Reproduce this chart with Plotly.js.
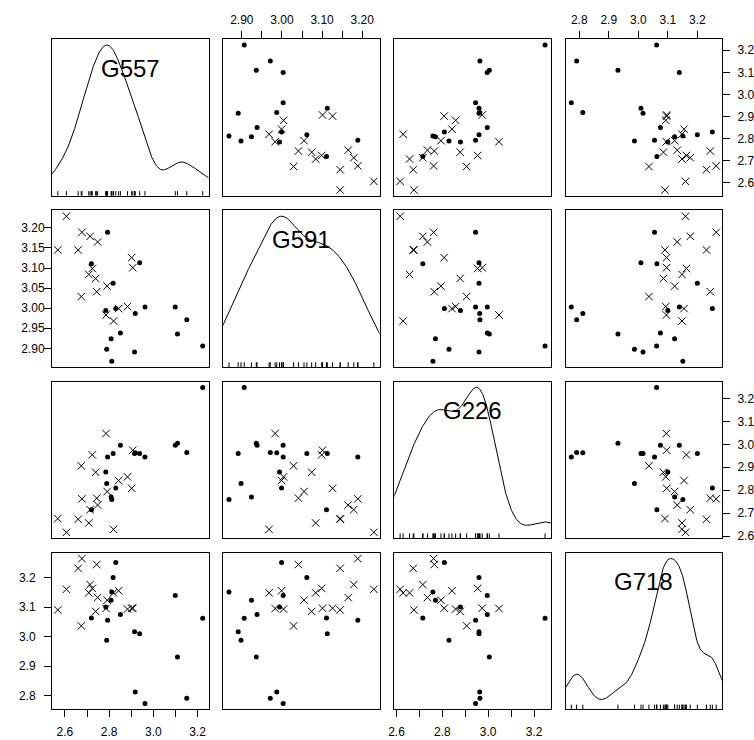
<!DOCTYPE html>
<html><head><meta charset="utf-8">
<script src="https://cdn.plot.ly/plotly-3.0.1.min.js"></script>
<style>html,body{margin:0;padding:0;background:#fff;}</style>
</head><body>
<div id="chart" style="width:754px;height:740px;"></div>
<script>
// ---------------- data ----------------
const varNames = ['G557', 'G591', 'G226', 'G718'];

// group 1: filled dots
const dotG557 = [2.720,2.785,2.789,2.793,2.809,2.812,2.818,2.830,2.851,2.915,2.918,2.938,2.962,3.099,3.109,3.151,3.223];
const dotG591 = [3.111,2.994,2.898,3.189,2.924,2.868,3.062,2.999,2.938,2.891,2.987,3.113,3.003,3.003,2.936,2.971,2.906];
const dotG226 = [2.715,2.879,2.829,2.945,2.770,2.759,2.960,2.809,2.996,2.960,2.963,2.960,2.945,2.996,3.005,2.964,3.248];
const dotG718 = [3.063,3.100,2.987,3.055,3.123,3.151,3.200,3.251,3.075,3.016,2.812,3.009,2.773,3.139,2.931,2.791,3.062];

// group 2: crosses
const crossG557 = [2.568,2.607,2.660,2.674,2.677,2.708,2.714,2.724,2.739,2.744,2.748,2.786,2.791,2.820,2.843,2.883,2.902,2.907];
const crossG591 = [3.145,3.229,3.145,3.029,3.189,3.084,3.179,3.099,3.074,3.041,3.165,2.983,3.055,2.968,2.999,3.004,3.126,3.101];
const crossG226 = [2.676,2.616,2.673,2.906,2.762,2.657,2.715,2.954,2.878,2.765,2.735,3.047,2.794,2.629,2.842,2.858,2.808,2.974];
const crossG718 = [3.090,3.160,3.231,3.036,3.264,3.148,3.176,3.163,3.085,3.244,3.132,3.095,3.123,3.148,3.155,3.093,3.096,3.096];

// tick values / labels
const tickG557 = [2.6,2.7,2.8,2.9,3.0,3.1,3.2];
const tickG557BottomText = ['2.6','','2.8','','3.0','','3.2'];
const tickG557RightText = ['2.6','2.7','2.8','2.9','3.0','3.1','3.2'];
const tickG591 = [2.90,2.95,3.00,3.05,3.10,3.15,3.20];
const tickG591TopText = ['2.90','','3.00','','3.10','','3.20'];
const tickG591LeftText = ['2.90','2.95','3.00','3.05','3.10','3.15','3.20'];
const tickG226 = [2.6,2.7,2.8,2.9,3.0,3.1,3.2];
const tickG226BottomText = ['2.6','','2.8','','3.0','','3.2'];
const tickG226RightText = ['2.6','2.7','2.8','2.9','3.0','3.1','3.2'];
const tickG718 = [2.8,2.9,3.0,3.1,3.2];
const tickG718Text = ['2.8','2.9','3.0','3.1','3.2'];

// ---------------- build ----------------
const dots = [dotG557, dotG591, dotG226, dotG718];
const crosses = [crossG557, crossG591, crossG226, crossG718];
const allVals = dots.map((d, i) => d.concat(crosses[i]));

const W = 754, H = 740;
const PANEL = 156.5, GAP = 14.67, LEFT = 52, TOP = 39.3;
const FONT = 'Liberation Sans, Arial, Helvetica, sans-serif';

function padRange(v) {
  const mn = Math.min(...v), mx = Math.max(...v), d = mx - mn;
  return [mn - 0.04 * d, mx + 0.04 * d];
}
const ranges = allVals.map(padRange);

function quantile7(s, p) {
  const h = (s.length - 1) * p, lo = Math.floor(h);
  const hi = Math.min(lo + 1, s.length - 1);
  return s[lo] + (h - lo) * (s[hi] - s[lo]);
}
function bwNrd0(x) {
  const n = x.length, m = x.reduce((a, b) => a + b, 0) / n;
  const sd = Math.sqrt(x.reduce((a, b) => a + (b - m) * (b - m), 0) / (n - 1));
  const s = [...x].sort((a, b) => a - b);
  const iqr = quantile7(s, 0.75) - quantile7(s, 0.25);
  const lo = Math.min(sd, iqr / 1.34);
  return 0.9 * lo * Math.pow(n, -0.2);
}
function density(x) {
  const bw = bwNrd0(x), n = x.length;
  const from = Math.min(...x) - 3 * bw, to = Math.max(...x) + 3 * bw;
  const gx = [], gy = [];
  for (let i = 0; i < 512; i++) {
    const g = from + (to - from) * i / 511;
    let s = 0;
    for (const xi of x) { const z = (g - xi) / bw; s += Math.exp(-0.5 * z * z); }
    gx.push(g); gy.push(s / (n * bw * Math.sqrt(2 * Math.PI)));
  }
  const mn = Math.min(...x), mx = Math.max(...x);
  const dmin = Math.min(...gy), dmax = Math.max(...gy);
  return { x: gx, y: gy.map(d => mn + d * (mx - mn) / (dmax - dmin)) };
}

const traces = [];
const layout = {
  width: W, height: H, margin: { l: 0, r: 0, t: 0, b: 0 },
  paper_bgcolor: '#fff', plot_bgcolor: '#fff', showlegend: false,
  font: { family: FONT, size: 12, color: '#000' },
  annotations: []
};

function axName(k, c) { return k === 1 ? c : c + k; }

const baseAxis = {
  showgrid: false, zeroline: false, showline: true, mirror: true,
  linecolor: '#000', linewidth: 1, ticks: '', showticklabels: false, fixedrange: true
};
const tickStyle = {
  ticks: 'outside', ticklen: 7, tickwidth: 1, tickcolor: '#000', showticklabels: true,
  tickmode: 'array', tickfont: { family: FONT, size: 12, color: '#000' }
};

for (let i = 0; i < 4; i++) {
  for (let j = 0; j < 4; j++) {
    const k = i * 4 + j + 1;
    const xa = axName(k, 'x'), ya = axName(k, 'y');
    const x0 = LEFT + j * (PANEL + GAP), y0 = TOP + i * (PANEL + GAP);
    const xaxis = Object.assign({}, baseAxis, {
      domain: [x0 / W, (x0 + PANEL) / W], range: ranges[j], anchor: ya
    });
    const yaxis = Object.assign({}, baseAxis, {
      domain: [1 - (y0 + PANEL) / H, 1 - y0 / H], range: ranges[i], anchor: xa
    });
    // outer axes
    if (i === 0 && j === 1) Object.assign(xaxis, tickStyle, { side: 'top', tickvals: tickG591, ticktext: tickG591TopText, ticklabelstandoff: 3 });
    if (i === 0 && j === 3) Object.assign(xaxis, tickStyle, { side: 'top', tickvals: tickG718, ticktext: tickG718Text, ticklabelstandoff: 3 });
    if (i === 3 && j === 0) Object.assign(xaxis, tickStyle, { side: 'bottom', tickvals: tickG557, ticktext: tickG557BottomText, ticklabelstandoff: 4 });
    if (i === 3 && j === 2) Object.assign(xaxis, tickStyle, { side: 'bottom', tickvals: tickG226, ticktext: tickG226BottomText, ticklabelstandoff: 4 });
    if (i === 0 && j === 3) Object.assign(yaxis, tickStyle, { side: 'right', tickvals: tickG557, ticktext: tickG557RightText, ticklabelstandoff: 5 });
    if (i === 2 && j === 3) Object.assign(yaxis, tickStyle, { side: 'right', tickvals: tickG226, ticktext: tickG226RightText, ticklabelstandoff: 5 });
    if (i === 1 && j === 0) Object.assign(yaxis, tickStyle, { side: 'left', tickvals: tickG591, ticktext: tickG591LeftText, ticklabelstandoff: -3 });
    if (i === 3 && j === 0) Object.assign(yaxis, tickStyle, { side: 'left', tickvals: tickG718, ticktext: tickG718Text, ticklabelstandoff: 6 });
    layout[k === 1 ? 'xaxis' : 'xaxis' + k] = xaxis;
    layout[k === 1 ? 'yaxis' : 'yaxis' + k] = yaxis;

    if (i === j) {
      const d = density(allVals[i]);
      traces.push({ type: 'scatter', mode: 'lines', x: d.x, y: d.y, xaxis: xa, yaxis: ya,
        line: { color: '#000', width: 1 }, hoverinfo: 'skip', cliponaxis: true });
      // rug
      const r = ranges[i], h = 0.03 * (r[1] - r[0]);
      const rx = [], ry = [];
      for (const v of allVals[i]) { rx.push(v, v, null); ry.push(r[0], r[0] + h, null); }
      traces.push({ type: 'scatter', mode: 'lines', x: rx, y: ry, xaxis: xa, yaxis: ya,
        line: { color: '#000', width: 1 }, hoverinfo: 'skip' });
      layout.annotations.push({
        text: varNames[i], xref: xa + ' domain', yref: ya + ' domain',
        x: 0.5, y: 1 - 29 / PANEL, xanchor: 'center', yanchor: 'middle',
        showarrow: false, font: { family: FONT, size: 24, color: '#000' }
      });
    } else {
      traces.push({ type: 'scatter', mode: 'markers', x: dots[j], y: dots[i], xaxis: xa, yaxis: ya,
        marker: { symbol: 'circle', size: 5, color: '#000' }, hoverinfo: 'skip' });
      traces.push({ type: 'scatter', mode: 'markers', x: crosses[j], y: crosses[i], xaxis: xa, yaxis: ya,
        marker: { symbol: 'x-thin-open', size: 7.5, color: '#000', line: { color: '#000', width: 1 } }, hoverinfo: 'skip' });
    }
  }
}

Plotly.newPlot('chart', traces, layout, { staticPlot: true, displayModeBar: false });
</script>
</body></html>
